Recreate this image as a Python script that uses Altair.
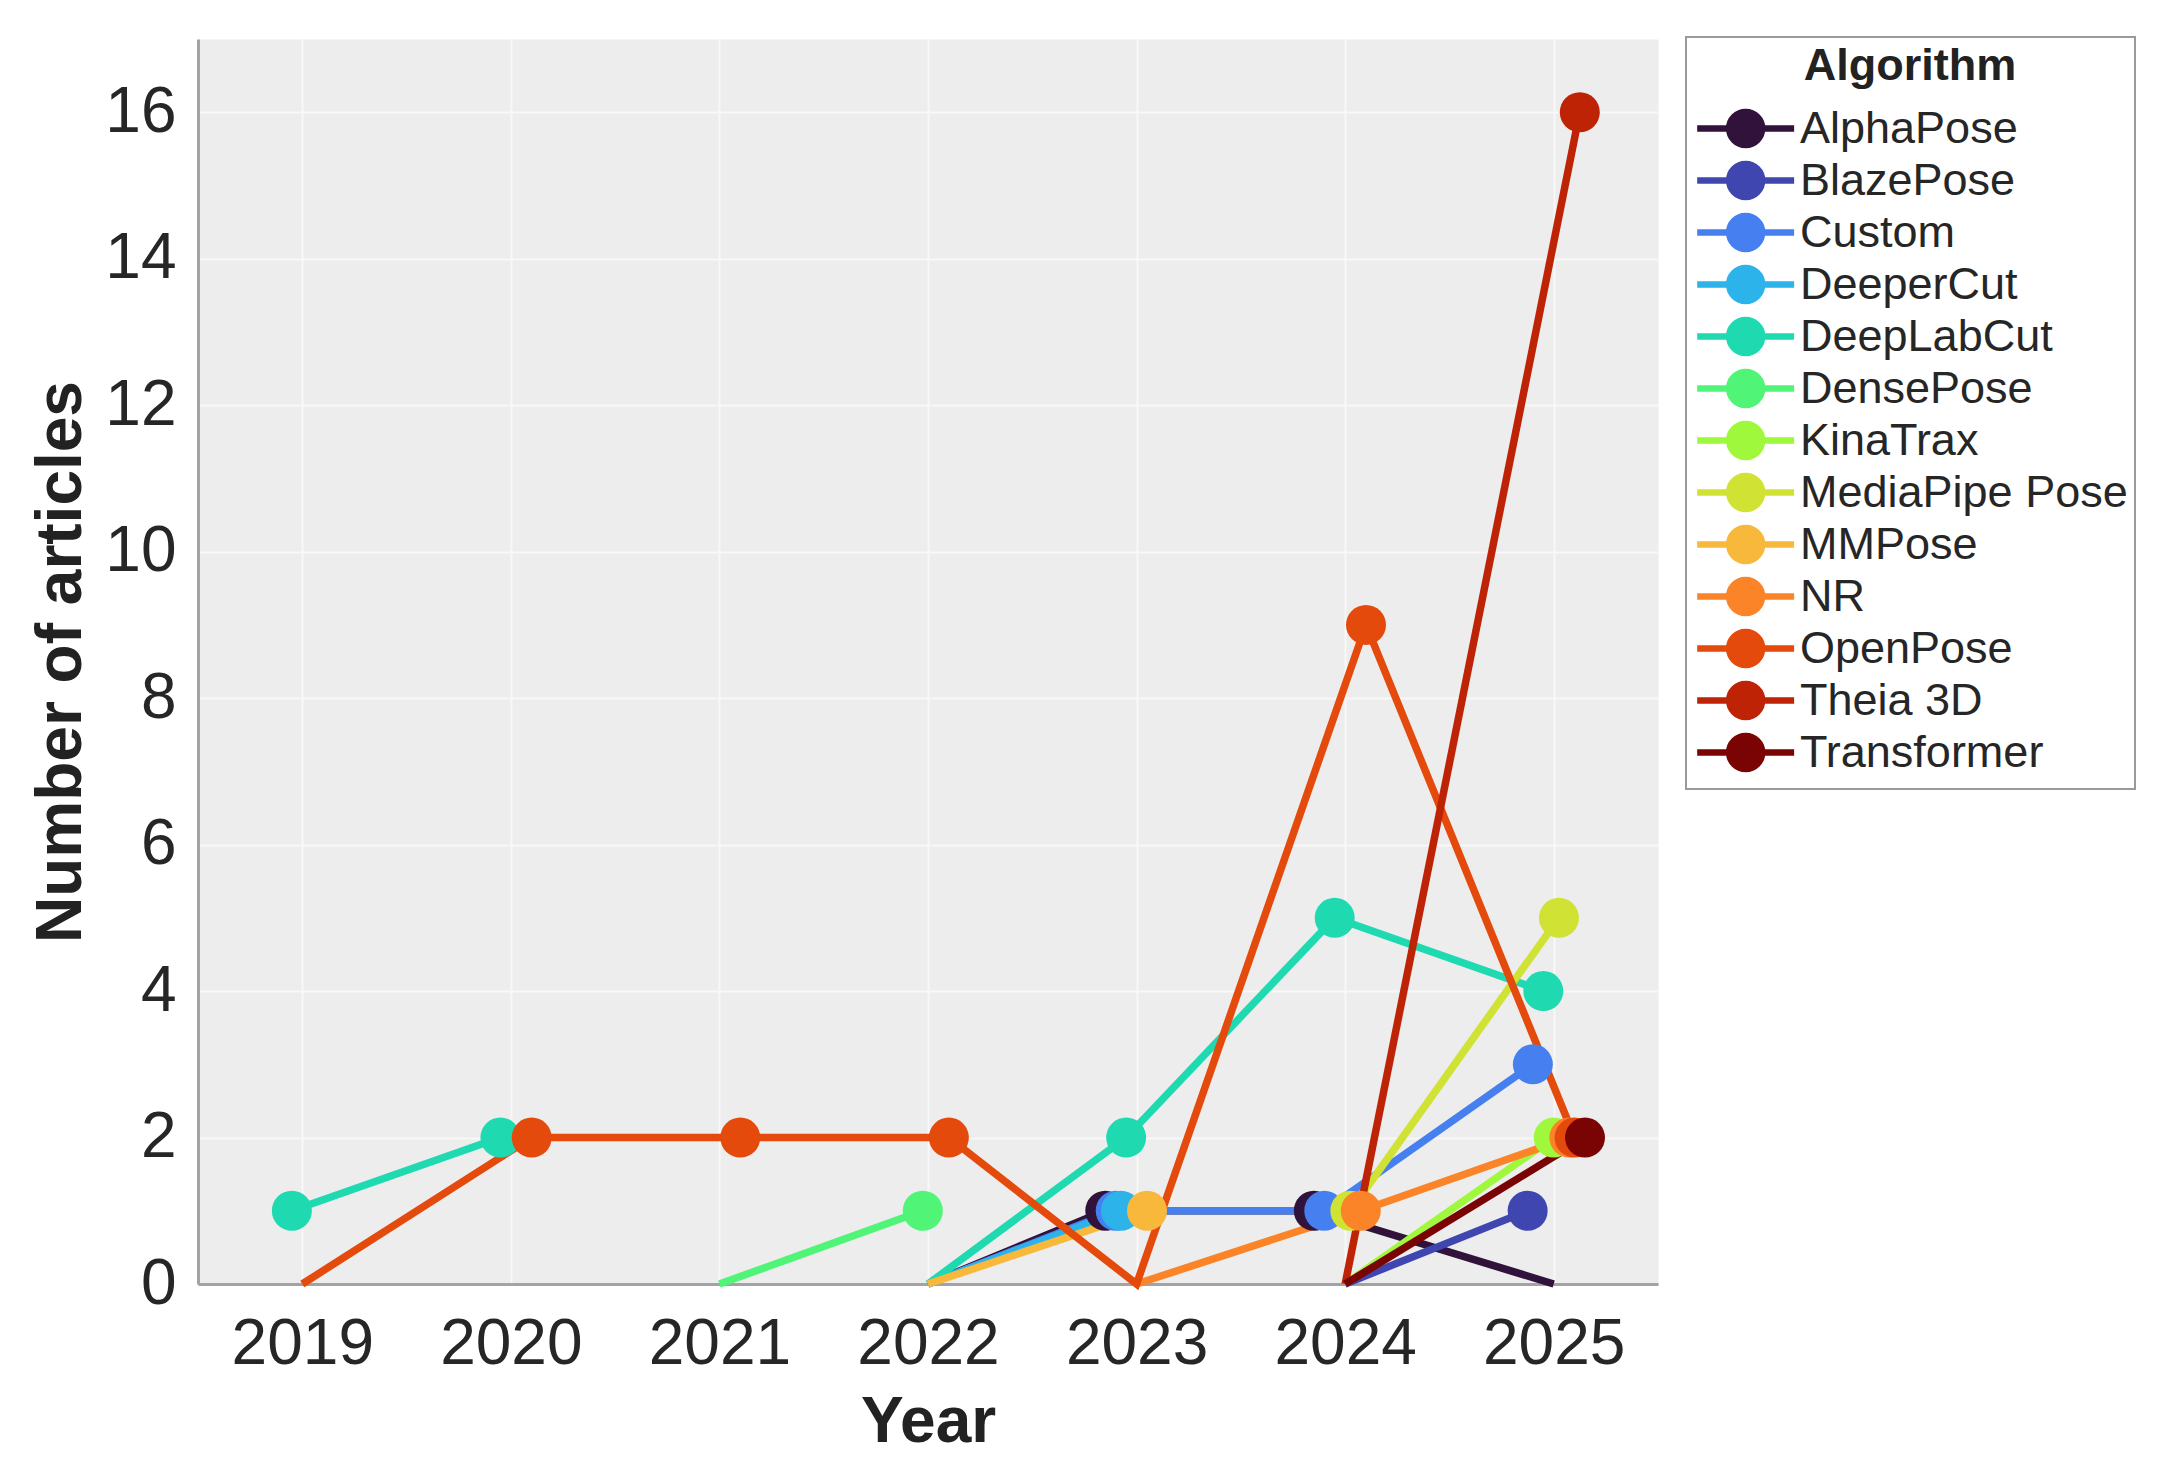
import altair as alt
import pandas as pd

years = [2019, 2020, 2021, 2022, 2023, 2024, 2025]

algorithms = ["AlphaPose", "BlazePose", "Custom", "DeeperCut", "DeepLabCut",
              "DensePose", "KinaTrax", "MediaPipe Pose", "MMPose", "NR",
              "OpenPose", "Theia 3D", "Transformer"]

colors = ["#30123b", "#4046b0", "#4680f0", "#2bb3ea", "#1fdab0",
          "#50f577", "#a0f83c", "#d0e234", "#f7b83c", "#fb8428",
          "#e44a0c", "#be2305", "#7a0403"]

# counts per year (None = not drawn)
alphapose   = [None, None, None, 0, 1, 1, 0]
blazepose   = [None, None, None, None, None, 0, 1]
custom      = [None, None, None, 0, 1, 1, 3]
deepercut   = [None, None, None, 0, 1, None, None]
deeplabcut  = [1, 2, None, 0, 2, 5, 4]
densepose   = [None, None, 0, 1, None, None, None]
kinatrax    = [None, None, None, None, None, 0, 2]
mediapipe   = [None, None, None, None, None, 1, 5]
mmpose      = [None, None, None, 0, 1, None, None]
nr          = [None, None, None, None, 0, 1, 2]
openpose    = [0, 2, 2, 2, 0, 9, 2]
theia3d     = [None, None, None, None, None, 0, 16]
transformer = [None, None, None, None, None, 0, 2]

series = [alphapose, blazepose, custom, deepercut, deeplabcut, densepose,
          kinatrax, mediapipe, mmpose, nr, openpose, theia3d, transformer]

rows = []
for i, (name, vals) in enumerate(zip(algorithms, series)):
    seg = 0
    prev = None
    for y, v in zip(years, vals):
        if v is None:
            if prev is not None:
                seg += 1
            prev = None
            continue
        rows.append({"Algorithm": name, "year": y, "count": v, "idx": i,
                     "seg": f"{name}-{seg}"})
        prev = v
df = pd.DataFrame(rows)

FONT = "Liberation Sans"

color_scale = alt.Scale(domain=algorithms, range=colors)
legend_path = "M-0.99,0L4.25,0M2.52,0A0.89,0.89,0,1,1,0.74,0A0.89,0.89,0,1,1,2.52,0Z"
legend = alt.Legend(
    title="Algorithm", orient="none", legendX=1488, legendY=-2,
    symbolType=legend_path, symbolSize=1369, symbolStrokeWidth=6.5,
    labelOffset=62, rowPadding=-10, padding=7,
    titleAnchor="middle", titleFontSize=45, titleFontWeight="bold",
    titlePadding=17, labelFontSize=45, labelLimit=600, titleLimit=600,
    strokeColor="#9a9a9a", fillColor="white",
)

x_enc = alt.X("xpos:Q",
              scale=alt.Scale(domain=[2018.5, 2025.5], nice=False, zero=False),
              axis=alt.Axis(title="Year", values=years, format="d",
                            labelPadding=28, titlePadding=14))
y_enc = alt.Y("count:Q",
              scale=alt.Scale(domain=[0, 17], nice=False),
              axis=alt.Axis(title="Number of articles",
                            values=[0, 2, 4, 6, 8, 10, 12, 14, 16],
                            labelPadding=22, titlePadding=11))

base = alt.Chart(df).transform_calculate(
    xpos="datum.year + (datum.count > 0 ? (datum.idx - 6) * 0.025 : 0)"
)

lines = base.mark_line(strokeWidth=7.5).encode(
    x=x_enc, y=y_enc,
    color=alt.Color("Algorithm:N", scale=color_scale, legend=legend),
    detail="seg:N",
    order="year:Q",
)

points = base.transform_filter("datum.count > 0").mark_circle(
    size=1600, opacity=1
).encode(
    x=x_enc, y=y_enc,
    color=alt.Color("Algorithm:N", scale=color_scale, legend=legend),
)

chart = alt.layer(lines, points).properties(
    width=1460, height=1245,
    autosize=alt.AutoSizeParams(type="none"),
    padding={"left": 190, "top": 31, "right": 500, "bottom": 170},
    background="white",
).configure(font=FONT).configure_view(
    fill="#ededed", stroke="transparent"
).configure_axis(
    labelFont=FONT, titleFont=FONT, labelFontSize=64, titleFontSize=64,
    titleFontWeight="bold", labelColor="#262626", titleColor="#222222",
    grid=True, gridColor="#f8f8f8", gridWidth=2,
    domainColor="#a3a3a3", domainWidth=3, ticks=False, tickSize=0,
    labelOverlap=False,
).configure_legend(
    labelFont=FONT, titleFont=FONT, labelColor="#262626", titleColor="#222222",
    strokeWidth=2,
)

chart.save("out.html", embed_options={"renderer": "svg", "actions": False})
